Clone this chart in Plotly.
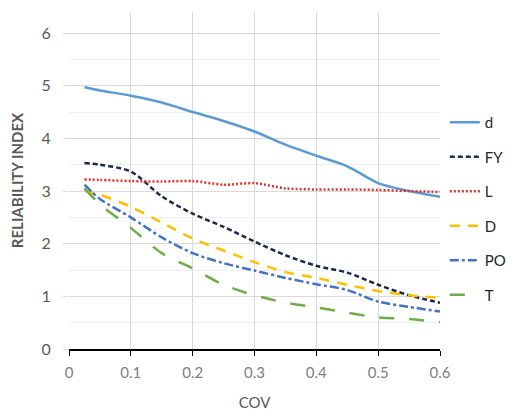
import plotly.graph_objects as go

cov = [0.025, 0.05, 0.1, 0.15, 0.2, 0.25, 0.3, 0.35, 0.4, 0.45, 0.5, 0.55, 0.6]
d_vals = [4.97, 4.91, 4.81, 4.68, 4.5, 4.33, 4.13, 3.88, 3.67, 3.47, 3.15, 3.0, 2.89]
fy_vals = [3.53, 3.5, 3.37, 2.9, 2.57, 2.32, 2.04, 1.78, 1.58, 1.45, 1.22, 1.02, 0.88]
l_vals = [3.22, 3.21, 3.19, 3.18, 3.19, 3.12, 3.15, 3.05, 3.03, 3.03, 3.02, 3.0, 2.98]
dd_vals = [3.0, 2.93, 2.7, 2.4, 2.1, 1.87, 1.65, 1.46, 1.35, 1.22, 1.1, 1.02, 0.97]
po_vals = [3.12, 2.85, 2.5, 2.12, 1.82, 1.63, 1.49, 1.35, 1.23, 1.12, 0.9, 0.8, 0.71]
t_vals = [3.05, 2.75, 2.3, 1.82, 1.53, 1.22, 1.02, 0.88, 0.79, 0.69, 0.6, 0.57, 0.51]

names = ["d", "FY", "L", "D", "PO", "T"]
series = [d_vals, fy_vals, l_vals, dd_vals, po_vals, t_vals]
colors = ["#5B9BD5", "#1B2A4A", "#E0302F", "#FFC000", "#4472C4", "#70AD47"]
dashes = ["solid", "5px,3px", "2px,2px", "10px,8px", "dashdot", "longdash"]

fig = go.Figure()
for i, (n, s, c, dsh) in enumerate(zip(names, series, colors, dashes)):
    fig.add_trace(go.Scatter(
        x=cov, y=s, name=n, mode="lines",
        line=dict(color=c, width=2.5, dash=dsh, shape="spline", smoothing=0.8),
        legendgroup=f"g{i}",
    ))

fig.update_layout(
    width=506, height=405,
    margin=dict(l=61, r=74, t=4, b=64, autoexpand=False),
    paper_bgcolor="white", plot_bgcolor="white",
    font=dict(family="Lato, Open Sans, sans-serif", color="#595959"),
    showlegend=True,
    legend=dict(
        x=1.013, y=0.721, xanchor="left", yanchor="top",
        font=dict(size=15, color="#262626"),
        tracegroupgap=12,
        bgcolor="rgba(0,0,0,0)",
    ),
    xaxis=dict(
        range=[0, 0.6], tickmode="array",
        tickvals=[0, 0.1, 0.2, 0.3, 0.4, 0.5, 0.6],
        ticktext=["0", "0.1", "0.2", "0.3", "0.4", "0.5", "0.6"],
        showgrid=True, gridcolor="#D9D9D9", gridwidth=1,
        showline=True, linecolor="black", linewidth=1.5,
        ticks="outside", ticklen=5, tickcolor="black",
        ticklabelstandoff=4,
        tickfont=dict(size=15, color="#7F7F7F"),
        title=dict(text="COV", font=dict(size=15, color="#595959"), standoff=18),
        zeroline=False,
    ),
    yaxis=dict(
        range=[0, 6.4], tickmode="array",
        tickvals=[0, 1, 2, 3, 4, 5, 6],
        showgrid=True, gridcolor="#D9D9D9", gridwidth=1,
        minor=dict(dtick=0.5, showgrid=True, gridcolor="#EFEFEF", gridwidth=1),
        showline=False, ticks="outside", ticklen=5, tickcolor="#D9D9D9",
        ticklabelstandoff=9,
        tickfont=dict(size=16, color="#595959"),
        title=dict(text="<b>RELIABILITY INDEX</b>", font=dict(size=15, color="#595959"), standoff=19),
        zeroline=False,
    ),
)

fig.write_html("out.html")
